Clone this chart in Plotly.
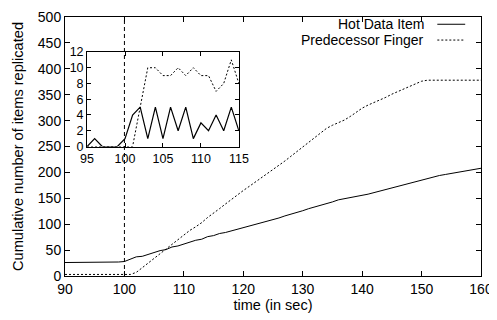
import plotly.graph_objects as go

# ---- data ----
time_main = list(range(90, 161))
hot_cum = [26, 26, 26, 26, 26, 27, 27, 27, 27, 27,
           28, 33, 37, 38, 42, 45, 49, 51, 56, 58,
           62, 65, 69, 71, 76, 78, 82, 84, 87, 90,
           93, 96, 99, 103, 106, 109, 112, 116, 119, 123,
           126, 130, 133, 137, 140, 143, 147, 149, 151, 153,
           155, 158, 161, 164, 168, 171, 174, 177, 180, 183,
           186, 189, 191, 194, 196, 198, 200, 202, 204, 206, 208]
pred_cum = [3, 3, 3, 3, 3, 3, 3, 3, 3, 3,
            3, 3, 7, 16, 25, 34, 43, 52, 61, 70,
            79, 88, 95, 103, 113, 121, 130, 139, 148, 157,
            165, 173, 181, 189, 197, 205, 214, 222, 231, 240,
            250, 259, 268, 277, 285, 291, 296, 301, 308, 316,
            324, 330, 335, 339, 345, 351, 356, 361, 366, 371,
            376, 378, 378, 378, 378, 378, 378, 378, 378, 378, 378]

time_inset = list(range(95, 116))
hot_rate = [0, 1, 0, 0, 0, 1, 4, 5, 1, 5, 1, 5, 2, 5, 1, 3, 2, 4, 2, 5, 2]
pred_rate = [0, 0, 0, 0, 0, 0, 0, 5, 10, 10, 9, 9, 10, 9, 10, 9, 9, 7, 8, 11, 8]

series_names = ["Hot Data Item", "Predecessor Finger"]
x_ticks = [90, 100, 110, 120, 130, 140, 150, 160]
y_ticks = [0, 50, 100, 150, 200, 250, 300, 350, 400, 450, 500]
inset_x_ticks = [95, 100, 105, 110, 115]
inset_y_ticks = [0, 2, 4, 6, 8, 10, 12]
event_time = 100

FONT = "Liberation Sans, Arial, Helvetica, sans-serif"

fig = go.Figure()
fig.add_trace(go.Scatter(x=time_main, y=hot_cum, mode="lines", name=series_names[0],
                         line=dict(color="black", width=1), showlegend=False))
fig.add_trace(go.Scatter(x=time_main, y=pred_cum, mode="lines", name=series_names[1],
                         line=dict(color="black", width=1, dash="2px,2px"), showlegend=False))
fig.add_trace(go.Scatter(x=time_inset, y=hot_rate, mode="lines", xaxis="x2", yaxis="y2",
                         line=dict(color="black", width=1.2), showlegend=False))
fig.add_trace(go.Scatter(x=time_inset, y=pred_rate, mode="lines", xaxis="x2", yaxis="y2",
                         line=dict(color="black", width=1, dash="2px,2px"), showlegend=False))

# vertical dashed event line
fig.add_shape(type="line", xref="x", yref="y", x0=event_time, x1=event_time, y0=0, y1=500,
              line=dict(color="black", width=1, dash="4px,3px"), layer="above")

# legend (gnuplot style: text right-aligned, sample on the right)
leg_y = [0.972, 0.911]
dashes = ["solid", "2px,2px"]
for name, yy, d in zip(series_names, leg_y, dashes):
    fig.add_annotation(xref="paper", yref="paper", x=0.866, y=yy, text=name,
                       showarrow=False, xanchor="right", yanchor="middle", borderpad=0,
                       font=dict(family=FONT, size=14, color="black"))
    fig.add_shape(type="line", xref="paper", yref="paper", x0=0.895, x1=0.962, y0=yy, y1=yy,
                  line=dict(color="black", width=1, dash=d))

axis_common = dict(showline=True, linecolor="black", linewidth=1, mirror="ticks",
                   ticks="inside", ticklen=5, tickcolor="black", showgrid=False,
                   zeroline=False, automargin=False,
                   tickfont=dict(family=FONT, size=14, color="black"))

# the page body adds an 8px offset, so margins are shifted to compensate
fig.update_layout(
    width=497, height=320,
    margin=dict(l=57, r=24, t=2, b=52),
    paper_bgcolor="white", plot_bgcolor="white",
    font=dict(family=FONT, size=14, color="black"),
    xaxis=dict(range=[90, 160], tickvals=x_ticks, title=dict(text="time (in sec)", standoff=4,
               font=dict(family=FONT, size=14.5)), **axis_common),
    yaxis=dict(range=[0, 500], tickvals=y_ticks,
               title=dict(text="Cumulative number of items replicated", standoff=10,
                          font=dict(family=FONT, size=14.6)), **axis_common),
    xaxis2=dict(domain=[0.053, 0.418], anchor="y2", range=[95, 115], tickvals=inset_x_ticks,
                showline=True, linecolor="black", linewidth=1, mirror="ticks",
                ticks="inside", ticklen=4, tickcolor="black", showgrid=False, zeroline=False,
                tickfont=dict(family=FONT, size=12.5, color="black")),
    yaxis2=dict(domain=[0.5, 0.865], anchor="x2", range=[0, 12], tickvals=inset_y_ticks,
                showline=True, linecolor="black", linewidth=1, mirror="ticks",
                ticks="inside", ticklen=4, tickcolor="black", showgrid=False, zeroline=False,
                tickfont=dict(family=FONT, size=12.5, color="black")),
)

fig.write_html("out.html")
